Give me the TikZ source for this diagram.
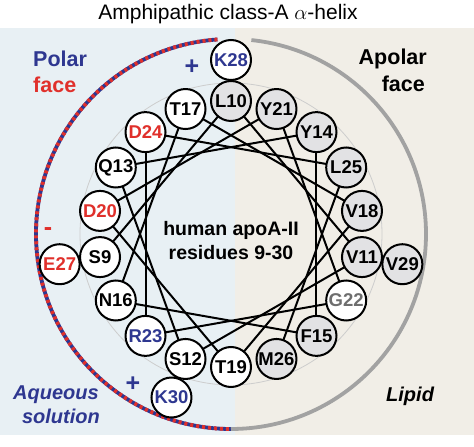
\documentclass[tikz,border=0pt]{standalone}
\usepackage{fontspec}
\setmainfont{Liberation Sans}
\usepackage{xcolor}
\usetikzlibrary{calc,backgrounds}

\definecolor{polarbg}{HTML}{E8F0F4}
\definecolor{lipidbg}{HTML}{F1EEE7}
\definecolor{resblue}{HTML}{2E3790}
\definecolor{resred}{HTML}{E0302B}
\definecolor{apolfill}{HTML}{E2E2E4}
\definecolor{glygray}{HTML}{6E6E6E}
\definecolor{facegray}{HTML}{A2A2A2}
\definecolor{ringgray}{HTML}{CDCDCD}

\begin{document}
\begin{tikzpicture}[x=1pt, y=1pt,
    res/.style={draw, circle, line width=2pt, fill=white, minimum size=40pt,
                inner sep=0pt, font=\bfseries\fontsize{18.5}{18.5}\selectfont},
    polres/.style={res},
    apolres/.style={res, fill=apolfill},
    acidres/.style={res, text=resred},
    basres/.style={res, text=resblue},
    glyres/.style={res, text=glygray},
    chord/.style={line width=2pt},
    facelbl/.style={font=\bfseries\fontsize{21.5}{21.5}\selectfont, inner sep=0pt},
    envlbl/.style={font=\bfseries\itshape\fontsize{20}{20}\selectfont, inner sep=0pt},
    charge/.style={font=\bfseries\fontsize{25}{25}\selectfont, inner sep=0pt}
]
\useasboundingbox (0,0) rectangle (474,447);
\coordinate (c) at (231,213);

% ================================================================
%  Background: polar (aqueous) side and apolar (lipid) side
% ================================================================
\begin{scope}[on background layer]
\fill[polarbg] (0,12) rectangle (235,419);
\fill[lipidbg] (235,12) rectangle (474,419);
\draw[ringgray, line width=0.8pt] (c) circle[radius=151pt];

% outer face arcs
\draw[resblue, line width=3.8pt] ($(c)+(94:195pt)$) arc[start angle=94, end angle=270, radius=195pt];
\draw[resred, line width=3.8pt, dash pattern=on 3pt off 3pt]
    ($(c)+(94:195pt)$) arc[start angle=94, end angle=270, radius=195pt];
\draw[facegray, line width=3.8pt] ($(c)+(-90:195pt)$) arc[start angle=-90, end angle=84, radius=195pt];
\end{scope}

\node[anchor=base, font=\fontsize{21}{21}\selectfont] (title) at (228,427)
    {Amphipathic class-A $\alpha$-helix};

% ================================================================
%  Helical wheel, 100 deg per residue
% ================================================================
\foreach \n/\lab/\sty in {9/S9/polres, 10/L10/apolres, 11/V11/apolres,
        12/S12/polres, 13/Q13/polres, 14/Y14/apolres, 15/F15/apolres,
        16/N16/polres, 17/T17/polres, 18/V18/apolres, 19/T19/polres,
        20/D20/acidres, 21/Y21/apolres, 22/G22/glyres, 23/R23/basres,
        24/D24/acidres, 25/L25/apolres, 26/M26/apolres,
        27/E27/acidres, 28/K28/basres, 29/V29/apolres, 30/K30/basres} {
    \pgfmathsetmacro{\ang}{90-100*(\n-10)}
    \pgfmathsetmacro{\rad}{\n<27 ? 133 : 174}
    \node[\sty] (r\n) at ($(c)+(\ang:\rad pt)$) {\lab};
}

% chords between consecutive residues 9-26
\begin{scope}[on background layer]
\foreach \i in {9,...,25} {
    \pgfmathtruncatemacro{\j}{\i+1}
    \draw[chord] (r\i.center) -- (r\j.center);
}
\end{scope}

\node[align=center, font=\bfseries\fontsize{19.5}{24}\selectfont] (wheel) at (231,206)
    {human apoA-II\\residues 9-30};

% labels
\node[facelbl, anchor=base west, text=resblue] (polar) at (33,380) {Polar};
\node[facelbl, anchor=base west, text=resred] (pface) at (33,354) {face};
\node[facelbl, anchor=base east] (apolar) at (427,382) {Apolar};
\node[facelbl, anchor=base east] (aface) at (425,355) {face};
\node[envlbl, anchor=base east, text=resblue] (aqueous) at (99,47) {Aqueous};
\node[envlbl, anchor=base east, text=resblue] (solution) at (100,23) {solution};
\node[envlbl, anchor=base west] (lipid) at (386,45) {Lipid};

\node[charge, text=resblue] (plus1) at (192,380) {+};
\node[charge, text=resblue] (plus2) at (133,63) {+};
\node[charge, text=resred] (minus) at (48,215) {-};
\end{tikzpicture}
\end{document}
